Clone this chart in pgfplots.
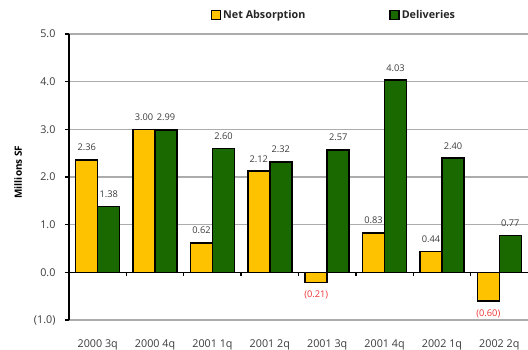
\documentclass[border=0pt]{standalone}
\usepackage{pgfplots}
\pgfplotsset{compat=1.18}
\usepackage{fontspec}
\setmainfont{Open Sans}
\definecolor{nyellow}{RGB}{255,194,0}
\definecolor{dgreen}{RGB}{26,104,0}
\definecolor{gridgray}{RGB}{172,172,172}
\definecolor{lblred}{RGB}{240,50,50}
\definecolor{lblgray}{RGB}{60,60,60}
\begin{document}
\begin{tikzpicture}
\useasboundingbox (0,0) rectangle (528bp,350bp);
\begin{axis}[
  at={(69bp,30bp)}, anchor=south west,
  scale only axis, width=459bp, height=286bp,
  xmin=-0.5, xmax=7.5, ymin=-1, ymax=5,
  clip=false,
  axis x line*=bottom, axis y line*=left,
  axis line style={-},
  x axis line style={draw=none},
  y axis line style={black, line width=1.5bp},
  xtick={0,...,7},
  xticklabels={2000 3q,2000 4q,2001 1q,2001 2q,2001 3q,2001 4q,2002 1q,2002 2q},
  xtick style={draw=none},
  x tick label style={font=\fontsize{10.8}{12}\selectfont, color=lblgray, yshift=-12bp},
  ytick={-1,0,...,5},
  yticklabels={(1.0),0.0,1.0,2.0,3.0,4.0,5.0},
  y tick label style={font=\fontsize{10.8}{12}\selectfont, color=lblgray, xshift=-6bp},
  ytick style={black, line width=1.3bp},
  tick align=outside, major tick length=4bp,
  ymajorgrids, grid style={gridgray, line width=1.3bp},
  ylabel={\bfseries Millions SF},
  ylabel style={font=\fontsize{10.5}{12}\selectfont, color=black!85},
  every axis y label/.style={at={(axis description cs:-0.111,0.517)}, rotate=90, anchor=center},
  ybar=0pt, bar width=22bp,
  point meta=explicit symbolic,
  nodes near coords,
  visualization depends on={y \as \rawy},
  every node near coord/.append style={font=\fontsize{9.3}{10}\selectfont, color=lblgray, inner sep=8bp,
    /utils/exec={\ifdim\rawy pt<0pt \gdef\myanchor{north}\else\gdef\myanchor{south}\fi},
    anchor=\myanchor},
  legend columns=2,
  legend style={at={(0.302,1.067)}, anchor=west, draw=none, fill=none,
    font=\bfseries\fontsize{10.8}{12}\selectfont, text=black!85,
    /tikz/every even column/.append style={column sep=82bp}},
]
\addplot[fill=nyellow, draw=black, line width=1.6bp,
  legend image code/.code={\draw[fill=nyellow,draw=black,line width=1.4bp] (0bp,-4.5bp) rectangle (9bp,4.5bp);}]
  coordinates {
  (0,2.36) [2.36]
  (1,3.00) [3.00]
  (2,0.62) [0.62]
  (3,2.12) [2.12]
  (4,-0.21) [\textcolor{lblred}{(0.21)}]
  (5,0.83) [0.83]
  (6,0.44) [0.44]
  (7,-0.60) [\textcolor{lblred}{(0.60)}]
};
\addplot[fill=dgreen, draw=black, line width=1.6bp,
  legend image code/.code={\draw[fill=dgreen,draw=black,line width=1.4bp] (0bp,-4.5bp) rectangle (9bp,4.5bp);}]
  coordinates {
  (0,1.38) [1.38]
  (1,2.99) [2.99]
  (2,2.60) [2.60]
  (3,2.32) [2.32]
  (4,2.57) [2.57]
  (5,4.03) [4.03]
  (6,2.40) [2.40]
  (7,0.77) [0.77]
};
\legend{Net Absorption, Deliveries}
\draw[black, line width=1.6bp] (axis cs:-0.5,0) -- (axis cs:7.5,0);
\pgfplotsinvokeforeach{0.5,1.5,2.5,3.5,4.5,5.5,6.5}{
  \draw[black, line width=1.3bp] (axis cs:#1,0) -- ([yshift=-4bp]axis cs:#1,0);
}
\end{axis}
\end{tikzpicture}
\end{document}
